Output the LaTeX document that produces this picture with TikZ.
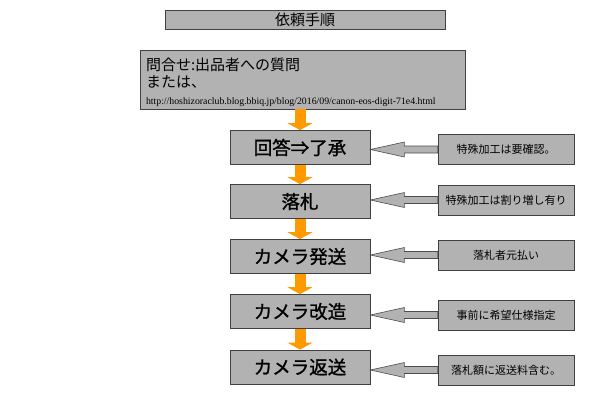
\documentclass[tikz,border=0pt]{standalone}
\usepackage{fontspec}
\setmainfont{Noto Sans CJK JP}
\newfontfamily\urlfont{Liberation Serif}
\newfontfamily\stepfont[FakeBold=1.2]{Noto Sans CJK JP}
\usepackage{xcolor}
\usetikzlibrary{arrows.meta,positioning,calc}
\definecolor{flow}{HTML}{FF9900}

\begin{document}
\begin{tikzpicture}[
  x=1pt,y=-1pt,
  box/.style={draw=black!75, line width=0.8pt, fill=black!30, align=center, inner sep=0pt},
  stepbox/.style={box, minimum width=140, minimum height=34, font=\stepfont\fontsize{18.5}{20}\selectfont},
  note/.style={box, minimum width=136, minimum height=30, font=\fontsize{11}{13}\selectfont},
  flowarr/.style={draw=flow, line width=11pt, -{Triangle[width=25pt,length=7pt]}},
  blockarr/.style={draw=black!70, line width=0.6pt, fill=black!30,
    to path={let \p1=(\tikztostart), \p2=(\tikztotarget) in
      (\x1,\y1+3.5pt) -- (\x2+34pt,\y1+3.5pt) -- (\x2+34pt,\y1+7.5pt) -- (\x2,\y1)
      -- (\x2+34pt,\y1-7.5pt) -- (\x2+34pt,\y1-3.5pt) -- (\x1,\y1-3.5pt) -- cycle}}
]
\useasboundingbox (0,0) rectangle (599,399);
\node[box, minimum width=280, minimum height=19, font=\fontsize{15}{16}\selectfont] (title) at (305,19.5) {依頼手順};
\node[box, align=left, text width=313, inner xsep=6, minimum height=59, font=\fontsize{15}{17}\selectfont] (query) at (302.5,79.5)
  {\rule{0pt}{19pt}問合せ:出品者への質問\\または、\\{\urlfont\fontsize{9.8}{14}\selectfont http://hoshizoraclub.blog.bbiq.jp/blog/2016/09/canon-eos-digit-71e4.html}};
\node[stepbox] (step1) at (300,147.5) {回答⇒了承};
\node[stepbox] (step2) at (300,201.5) {落札};
\node[stepbox] (step3) at (300,256.5) {カメラ発送};
\node[stepbox] (step4) at (300,311.5) {カメラ改造};
\node[stepbox] (step5) at (300,367) {カメラ返送};
\node[note] (note1) at (506,149.5) {特殊加工は要確認。};
\node[note] (note2) at (506,200) {特殊加工は割り増し有り};
\node[note] (note3) at (506,255) {落札者元払い};
\node[note] (note4) at (506,315) {事前に希望仕様指定};
\node[note] (note5) at (506,370) {落札額に返送料含む。};
\draw[flowarr] (step1.north |- query.south) -- (step1.north);
\draw[flowarr] (step1.south) -- (step2.north);
\draw[flowarr] (step2.south) -- (step3.north);
\draw[flowarr] (step3.south) -- (step4.north);
\draw[flowarr] (step4.south) -- (step5.north);
\draw[blockarr] (note1.west) to (step1.east);
\draw[blockarr] (note2.west) to (step2.east);
\draw[blockarr] (note3.west) to (step3.east);
\draw[blockarr] (note4.west) to (step4.east);
\draw[blockarr] (note5.west) to (step5.east);
\end{tikzpicture}
\end{document}
